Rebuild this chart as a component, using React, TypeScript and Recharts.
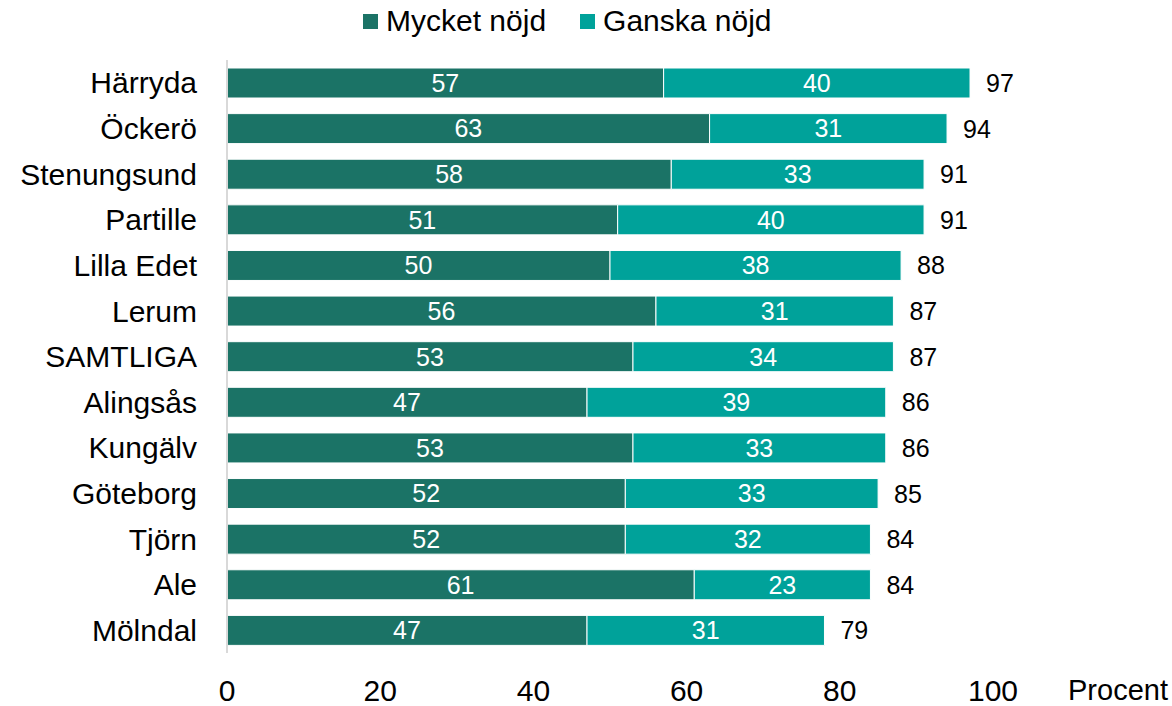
import { BarChart, Bar, XAxis, YAxis, LabelList } from 'recharts';

const categories = [
  'Härryda', 'Öckerö', 'Stenungsund', 'Partille', 'Lilla Edet', 'Lerum', 'SAMTLIGA',
  'Alingsås', 'Kungälv', 'Göteborg', 'Tjörn', 'Ale', 'Mölndal',
];
const mycketNojd = [57, 63, 58, 51, 50, 56, 53, 47, 53, 52, 52, 61, 47];
const ganskaNojd = [40, 31, 33, 40, 38, 31, 34, 39, 33, 33, 32, 23, 31];
const totals = [97, 94, 91, 91, 88, 87, 87, 86, 86, 85, 84, 84, 79];
const xTicks = [0, 20, 40, 60, 80, 100];

const DARK = '#1b7366';
const TEAL = '#00a29a';
const FONT = '"Liberation Sans", Arial, sans-serif';

const data = categories.map((name, i) => ({
  name,
  mycket: mycketNojd[i],
  ganska: ganskaNojd[i],
  total: totals[i],
}));

const legendItems = [
  { name: 'Mycket nöjd', color: DARK },
  { name: 'Ganska nöjd', color: TEAL },
];

function ChartLegend() {
  return (
    <div
      style={{
        position: 'absolute', top: 0, left: 363, height: 42,
        display: 'flex', alignItems: 'center', gap: 34, fontFamily: FONT, fontSize: 30,
      }}
    >
      {legendItems.map((d) => (
        <div key={d.name} style={{ display: 'flex', alignItems: 'center', gap: 8 }}>
          <span style={{ width: 15, height: 15, background: d.color, display: 'inline-block' }} />
          <span style={{ color: '#000' }}>{d.name}</span>
        </div>
      ))}
    </div>
  );
}

function TotalLabel(props: any) {
  const { x, y, width, height, index } = props;
  return (
    <text
      x={Number(x) + Number(width) + 16}
      y={Number(y) + Number(height) / 2}
      dominantBaseline="central"
      fontSize={25}
      fontFamily={FONT}
      fill="#000"
    >
      {totals[index]}
    </text>
  );
}

export default function App() {
  return (
    <div style={{ width: 1172, height: 706, position: 'relative' }}>
      <style>{`body{margin:0}`}</style>
      <ChartLegend />
      <BarChart
        width={1172}
        height={706}
        data={data}
        layout="vertical"
        margin={{ top: 60, right: 179, bottom: 0, left: 0 }}
        barSize={30}
      >
        <XAxis
          type="number"
          domain={[0, 100]}
          ticks={xTicks}
          axisLine={false}
          tickLine={false}
          tickSize={0}
          tickMargin={27}
          height={53}
          tick={{ fill: '#000', fontSize: 30, fontFamily: FONT }}
          label={{ value: 'Procent', position: 'right', offset: 75, dy: 10, fill: '#000', fontSize: 29, fontFamily: FONT }}
        />
        <YAxis
          type="category"
          dataKey="name"
          width={227}
          axisLine={{ stroke: '#d9d9d9', strokeWidth: 2 }}
          tickLine={false}
          tickSize={0}
          tickMargin={30}
          interval={0}
          tick={{ fill: '#000', fontSize: 30, fontFamily: FONT }}
        />
        <Bar dataKey="mycket" stackId="a" fill={DARK} stroke="#fff" strokeWidth={1} isAnimationActive={false}>
          <LabelList dataKey="mycket" position="center" fill="#fff" fontSize={25} fontFamily={FONT} />
        </Bar>
        <Bar dataKey="ganska" stackId="a" fill={TEAL} stroke="#fff" strokeWidth={1} isAnimationActive={false}>
          <LabelList dataKey="ganska" position="center" fill="#fff" fontSize={25} fontFamily={FONT} />
          <LabelList dataKey="total" content={TotalLabel} />
        </Bar>
      </BarChart>
    </div>
  );
}
